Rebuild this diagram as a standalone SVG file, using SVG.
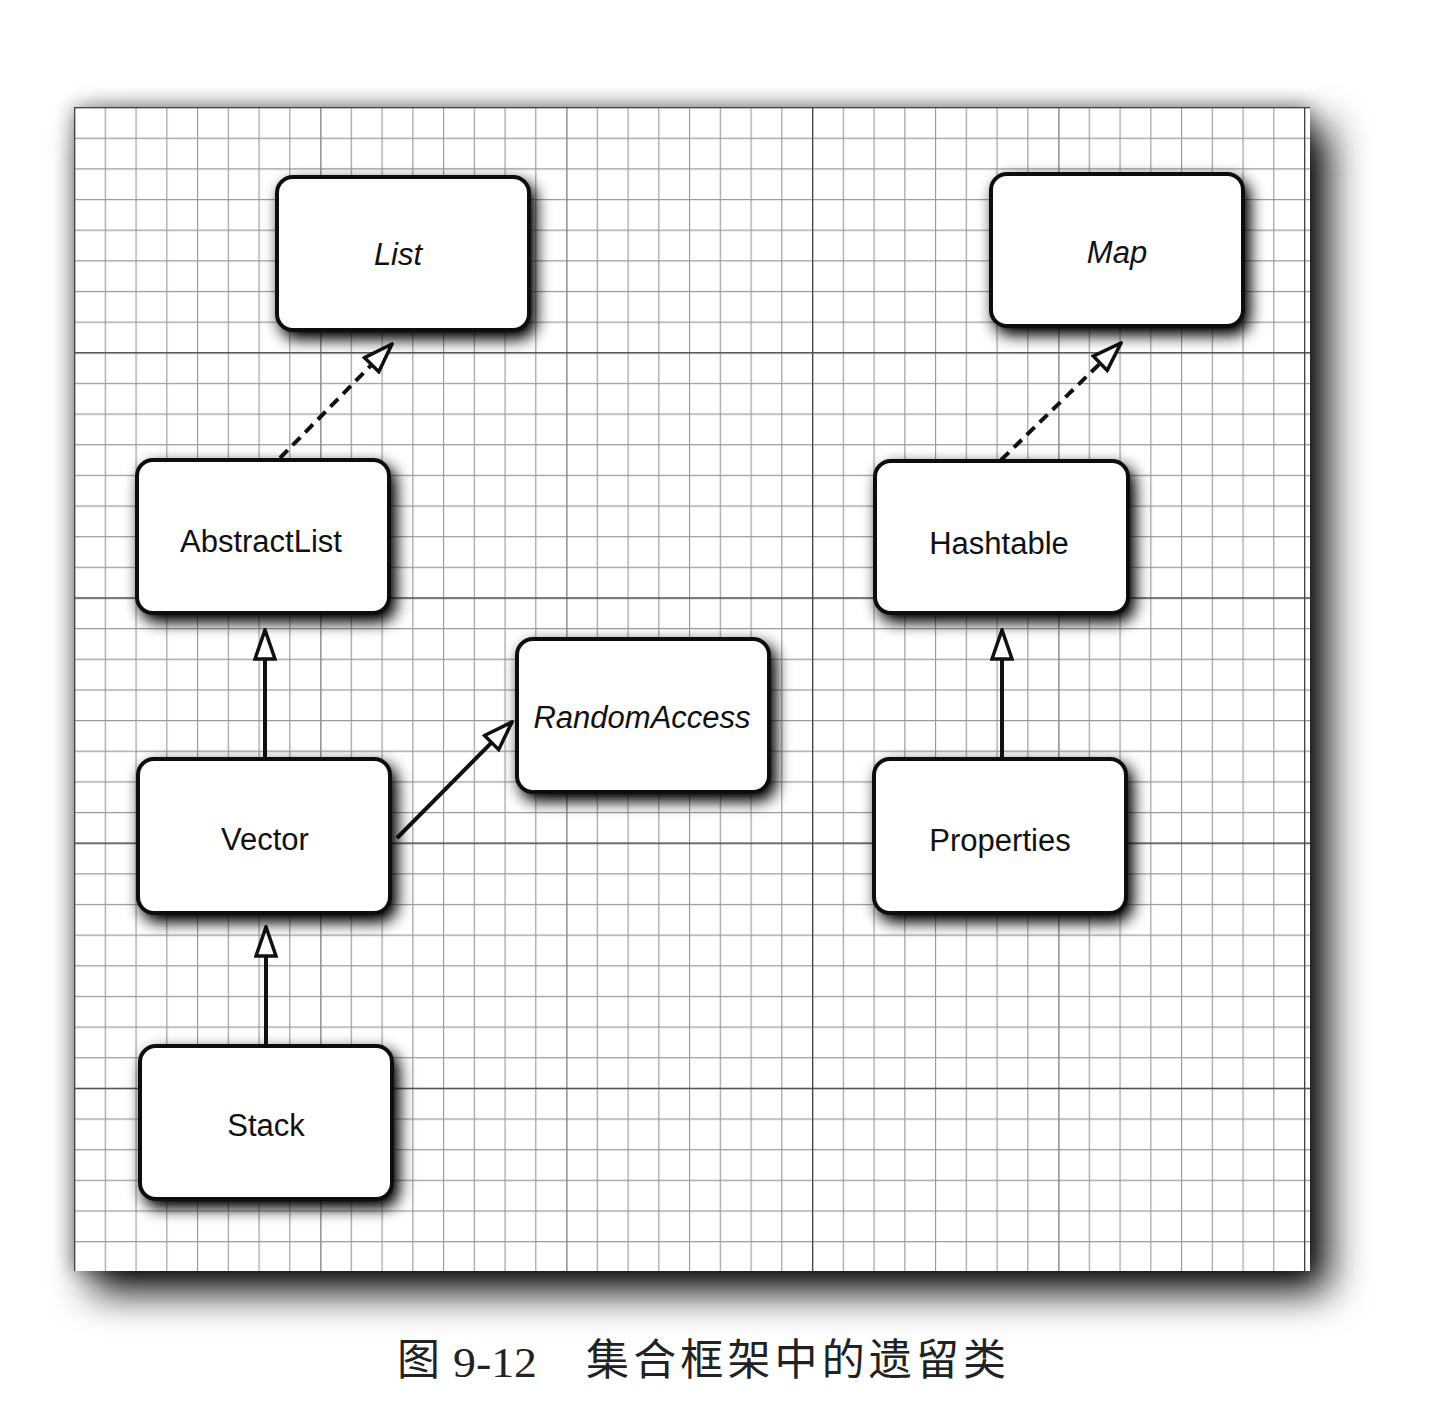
<svg xmlns="http://www.w3.org/2000/svg" width="1448" height="1421" viewBox="0 0 1448 1421">
<defs>
<style>
.node rect{fill:#fff;stroke:#111;stroke-width:4;filter:url(#nshadow)}
.node text{font-family:"Liberation Sans",Arial,sans-serif;font-size:31px;fill:#111;text-anchor:middle}
.node text.it{font-style:italic}
.conn line{stroke:#111;stroke-width:4;fill:none}
.conn line.dash{stroke-dasharray:11 7}
.cap{font-size:43px;fill:#222}
</style>
<filter id="pshadow" x="-10%" y="-10%" width="125%" height="125%">
<feGaussianBlur in="SourceAlpha" stdDeviation="20" result="b1"/>
<feOffset in="b1" dx="18" dy="20" result="o1"/>
<feGaussianBlur in="SourceAlpha" stdDeviation="10" result="b2"/>
<feComponentTransfer in="b2" result="h"><feFuncA type="linear" slope="0.45"/></feComponentTransfer>
<feMerge><feMergeNode in="h"/><feMergeNode in="o1"/><feMergeNode in="SourceGraphic"/></feMerge>
</filter>
<filter id="nshadow" x="-20%" y="-20%" width="145%" height="150%">
<feGaussianBlur in="SourceAlpha" stdDeviation="8"/>
<feOffset dx="5" dy="7" result="b"/>
<feComponentTransfer><feFuncA type="linear" slope="1.1"/></feComponentTransfer>
<feMerge><feMergeNode/><feMergeNode in="SourceGraphic"/></feMerge>
</filter>
<pattern id="minor" patternUnits="userSpaceOnUse" x="74" y="107" width="30.75" height="30.65">
<path d="M0 0.5H30.75M0.5 0V30.65" stroke="#9a9a9a" stroke-width="1.3" fill="none"/>
</pattern>
<pattern id="major" patternUnits="userSpaceOnUse" x="74" y="107" width="246" height="245.2">
<path d="M0 0.5H246M0.5 0V245.2" stroke="#444" stroke-width="1.6" fill="none"/>
</pattern>
<marker id="tri" viewBox="0 0 34 24" refX="32" refY="12" markerWidth="34" markerHeight="24" markerUnits="userSpaceOnUse" orient="auto">
<path d="M3 2L32 12L3 22Z" fill="#fff" stroke="#111" stroke-width="3.5" stroke-linejoin="miter"/>
</marker>
</defs>
<rect width="1448" height="1421" fill="#fff"/>
<g id="paper">
<rect x="74" y="107" width="1236" height="1164" fill="#fff" filter="url(#pshadow)"/>
<rect x="74" y="107" width="1236" height="1164" fill="url(#minor)"/>
<rect x="74" y="107" width="1236" height="1164" fill="url(#major)"/>
</g>
<g id="connectors" class="conn">
<line class="dash" x1="280" y1="458" x2="392" y2="344" marker-end="url(#tri)"/>
<line class="dash" x1="1001" y1="460" x2="1121" y2="343" marker-end="url(#tri)"/>
<line x1="265" y1="758" x2="265" y2="630" marker-end="url(#tri)"/>
<line x1="266" y1="1045" x2="266" y2="927" marker-end="url(#tri)"/>
<line x1="1002" y1="758" x2="1002" y2="630" marker-end="url(#tri)"/>
<line x1="397" y1="838" x2="512" y2="722" marker-end="url(#tri)"/>
</g>
<g id="List" class="node"><rect x="277" y="177" width="252" height="153" rx="16"/><text class="it" x="398" y="265">List</text></g>
<g id="Map" class="node"><rect x="991" y="174" width="252" height="152" rx="16"/><text class="it" x="1117" y="263">Map</text></g>
<g id="AbstractList" class="node"><rect x="137" y="460" width="252" height="153" rx="16"/><text x="261" y="552">AbstractList</text></g>
<g id="Hashtable" class="node"><rect x="875" y="461" width="253" height="152" rx="16"/><text x="999" y="554">Hashtable</text></g>
<g id="RandomAccess" class="node"><rect x="517" y="639" width="252" height="153" rx="16"/><text class="it" x="642" y="728">RandomAccess</text></g>
<g id="Vector" class="node"><rect x="138" y="759" width="252" height="154" rx="16"/><text x="265" y="850">Vector</text></g>
<g id="Properties" class="node"><rect x="874" y="759" width="252" height="154" rx="16"/><text x="1000" y="851">Properties</text></g>
<g id="Stack" class="node"><rect x="140" y="1046" width="252" height="153" rx="16"/><text x="266" y="1136">Stack</text></g>
<g id="caption">
<text class="cap" x="397" y="1375" font-family="'Noto Sans CJK SC',sans-serif">图</text>
<text class="cap" x="453" y="1377" textLength="84" lengthAdjust="spacingAndGlyphs" font-family="'Liberation Serif',serif" font-size="50">9-12</text>
<text class="cap" x="586" y="1375" textLength="420" lengthAdjust="spacing" font-family="'Noto Sans CJK SC',sans-serif">集合框架中的遗留类</text>
</g>
</svg>
